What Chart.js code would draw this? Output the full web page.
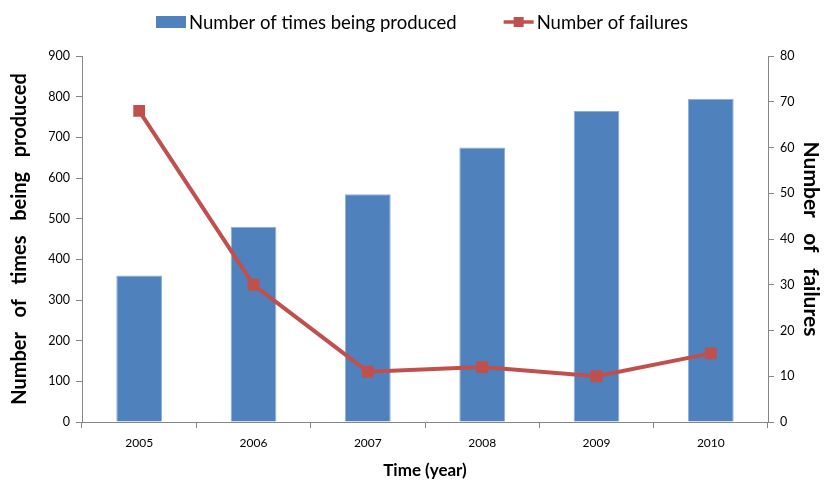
<!DOCTYPE html>
<html>
<head>
<meta charset="utf-8">
<script src="https://cdn.jsdelivr.net/npm/chart.js@4"></script>
<style>
  html, body { margin: 0; padding: 0; background: #fff; }
  #wrap { width: 831px; height: 481px; }
</style>
</head>
<body>
<div id="wrap"><canvas id="c" width="831" height="481"></canvas></div>
<script>
// Production volume and failure counts per year
const years = ['2005', '2006', '2007', '2008', '2009', '2010'];
const producedCounts = [360, 480, 560, 675, 765, 795];
const failureCounts = [68, 30, 11, 12, 10, 15];
const producedTicks = [0, 100, 200, 300, 400, 500, 600, 700, 800, 900];
const failureTicks = [0, 10, 20, 30, 40, 50, 60, 70, 80];

const BAR_BLUE = '#4F81BD';
const LINE_RED = '#C0504D';
const AXIS_GRAY = '#868686';
const TEXT_FONT = 'Lato, "Liberation Sans", sans-serif';

// Legend drawn across the top of the chart
const topLegend = {
  id: 'topLegend',
  afterDraw(chart) {
    const ctx = chart.ctx;
    const ds = chart.data.datasets;
    ctx.save();
    ctx.font = '18.5px ' + TEXT_FONT;
    ctx.textBaseline = 'middle';
    const y = 22;
    const symW = 30, gap = 3, between = 47;
    let x = 156;
    ds.forEach(d => {
      const w = ctx.measureText(d.label).width;
      if (d.type === 'line') {
        ctx.strokeStyle = LINE_RED;
        ctx.lineWidth = 3.5;
        ctx.beginPath();
        ctx.moveTo(x, y); ctx.lineTo(x + symW, y);
        ctx.stroke();
        ctx.fillStyle = LINE_RED;
        ctx.fillRect(x + symW / 2 - 5, y - 5, 10, 10);
      } else {
        ctx.fillStyle = BAR_BLUE;
        ctx.fillRect(x, y - 6, symW, 12);
      }
      ctx.fillStyle = '#000';
      ctx.fillText(d.label, x + symW + gap, y + 1);
      x += symW + gap + w + between;
    });
    ctx.restore();
  }
};

new Chart(document.getElementById('c'), {
  type: 'bar',
  data: {
    labels: years,
    datasets: [
      {
        label: 'Number of times being produced',
        data: producedCounts,
        yAxisID: 'y',
        backgroundColor: BAR_BLUE,
        borderColor: '#8DB0DA',
        borderWidth: 1,
        categoryPercentage: 1,
        barPercentage: 0.4,
        order: 1
      },
      {
        type: 'line',
        label: 'Number of failures',
        data: failureCounts,
        yAxisID: 'y1',
        borderColor: LINE_RED,
        backgroundColor: LINE_RED,
        borderWidth: 4,
        pointStyle: 'rect',
        pointRadius: 5.5,
        pointBackgroundColor: LINE_RED,
        pointBorderColor: LINE_RED,
        tension: 0,
        order: 0
      }
    ]
  },
  options: {
    responsive: false,
    animation: false,
    layout: { padding: { top: 56, left: 0, right: 0, bottom: 0 } },
    plugins: {
      legend: { display: false },
      tooltip: { enabled: false }
    },
    scales: {
      x: {
        offset: true,
        grid: { offset: true, drawOnChartArea: false, color: AXIS_GRAY, tickLength: 6 },
        border: { color: AXIS_GRAY, width: 1 },
        ticks: { color: '#000', font: { family: TEXT_FONT, size: 12 }, padding: 8 },
        title: { display: true, text: 'Time (year)', color: '#000', font: { family: TEXT_FONT, size: 17, weight: 'bold' }, padding: { top: 4, bottom: 0 } },
        afterFit(s) { s.height = 59; }
      },
      y: {
        position: 'left',
        min: 0, max: 900,
        afterBuildTicks(s) { s.ticks = producedTicks.map(v => ({ value: v })); },
        grid: { drawOnChartArea: false, color: AXIS_GRAY, tickLength: 6 },
        border: { color: AXIS_GRAY, width: 1 },
        ticks: { color: '#000', font: { family: TEXT_FONT, size: 12.5 }, padding: 6 },
        title: { display: true, text: 'Number   of   times   being   produced', color: '#000', font: { family: TEXT_FONT, size: 20, weight: 'bold' }, padding: { top: 8, bottom: 0 } },
        afterFit(s) { s.width = 82; }
      },
      y1: {
        position: 'right',
        min: 0, max: 80,
        afterBuildTicks(s) { s.ticks = failureTicks.map(v => ({ value: v })); },
        grid: { drawOnChartArea: false, color: AXIS_GRAY, tickLength: 6 },
        border: { color: AXIS_GRAY, width: 1 },
        ticks: { color: '#000', font: { family: TEXT_FONT, size: 12.5 }, padding: 6 },
        title: { display: true, text: 'Number   of   failures', color: '#000', font: { family: TEXT_FONT, size: 21, weight: 'bold' }, padding: { top: 8, bottom: 0 } },
        afterFit(s) { s.width = 63; }
      }
    }
  },
  plugins: [topLegend]
});
</script>
</body>
</html>
